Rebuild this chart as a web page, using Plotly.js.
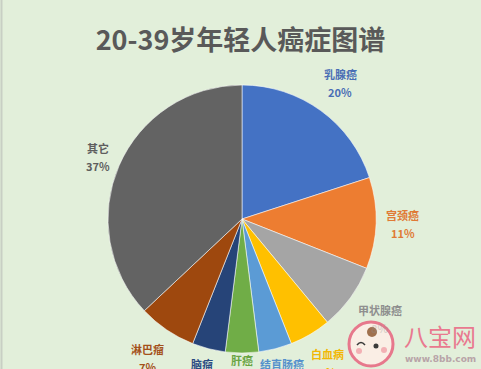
<!DOCTYPE html>
<html>
<head>
<meta charset="utf-8">
<script src="https://cdn.plot.ly/plotly-3.0.1.min.js"></script>
<style>html,body{margin:0;padding:0;background:#E2EFDA;}#chart{width:481px;height:369px;}</style>
</head>
<body>
<div id="chart"></div>
<script>
// Data
var categories = ["乳腺癌", "宫颈癌", "甲状腺癌", "白血病", "结直肠癌", "肝癌", "脑瘤", "淋巴瘤", "其它"];
var values = [20, 11, 8, 5, 4, 4, 4, 7, 37];

// Styles
var sliceColors = ["#4472C4", "#ED7D31", "#A5A5A5", "#FFC000", "#5B9BD5", "#70AD47", "#264478", "#9E480E", "#636363"];
var labelColors = ["#4A6EB5", "#E07A35", "#8F8F8F", "#F2B705", "#5591CC", "#6AA544", "#2A4A82", "#A4511A", "#5E5E5E"];
var labelRadius = [1.25, 1.20, 1.27, 1.25, 1.19, 1.12, 1.19, 1.25, 1.17];
var labelOpacity = [1, 1, 0.3, 1, 1, 1, 1, 1, 1];

var W = 481, H = 369;
var dom = {x: [108 / W, 376 / W], y: [(H - 353) / H, (H - 85) / H]};
var cx = (dom.x[0] + dom.x[1]) / 2 * W;
var cy = H - (dom.y[0] + dom.y[1]) / 2 * H;
var R = (dom.x[1] - dom.x[0]) * W / 2;

var total = values.reduce(function (a, b) { return a + b; }, 0);
var annotations = [];
var cum = 0;
values.forEach(function (v, i) {
  var mid = (cum + v / 2) / total * 2 * Math.PI;
  cum += v;
  var r = R * labelRadius[i];
  var px = cx + r * Math.sin(mid);
  var py = cy - r * Math.cos(mid);
  var pct = Math.round(v / total * 100) + "%";
  var common = {xref: "paper", yref: "paper", x: px / W, y: (H - py) / H, showarrow: false,
    xanchor: "center", yanchor: "middle",
    font: {family: "Noto Sans CJK SC", size: 11, color: labelColors[i], weight: "bold"}};
  annotations.push(Object.assign({}, common, {text: categories[i], yshift: 9}));
  annotations.push(Object.assign({}, common, {text: pct, yshift: -9, opacity: labelOpacity[i]}));
});

// watermark
annotations.push({xref: "paper", yref: "paper", x: 440 / W, y: (H - 335) / H, text: "八宝网", showarrow: false,
  xanchor: "center", yanchor: "middle",
  font: {family: "Noto Sans CJK SC", size: 24, color: "#E9798F"}});
annotations.push({xref: "paper", yref: "paper", x: 440 / W, y: (H - 359) / H, text: "www.8bb.com", showarrow: false,
  xanchor: "center", yanchor: "middle",
  font: {family: "DejaVu Sans", size: 9, color: "#B8A4A8", weight: "bold"}});

function circ(x, y, r, fill, lineColor, lw) {
  return {type: "circle", xref: "paper", yref: "paper", x0: (x - r) / W, x1: (x + r) / W,
    y0: (H - y - r) / H, y1: (H - y + r) / H, fillcolor: fill,
    line: {color: lineColor || "rgba(0,0,0,0)", width: lw || 0}};
}
var shapes = [
  circ(371, 344, 22, "rgba(252,238,230,0.92)", "#E7788C", 3),
  circ(372, 332, 5, "#A0704E"),
  circ(376, 346, 2.5, "#3A3A3A"),
  circ(359, 351, 3, "rgba(240,150,160,0.7)"),
  circ(384, 350, 3, "rgba(240,150,160,0.7)"),
  {type: "path", xref: "paper", yref: "paper",
    path: "M " + (357 / W) + " " + ((H - 345) / H) + " Q " + (361 / W) + " " + ((H - 340) / H) + " " + (365 / W) + " " + ((H - 345) / H),
    line: {color: "#3A3A3A", width: 1.5}},
  {type: "line", xref: "paper", yref: "paper", x0: 1.5 / W, x1: 1.5 / W, y0: 0, y1: 1,
    line: {color: "#C8CFC4", width: 2}}
];

var data = [{
  type: "pie",
  labels: categories,
  values: values,
  sort: false,
  direction: "clockwise",
  rotation: 0,
  textinfo: "none",
  hoverinfo: "label+percent",
  domain: dom,
  marker: {colors: sliceColors, line: {color: "rgba(255,255,255,0.55)", width: 1}}
}];

var layout = {
  width: W, height: H,
  margin: {l: 0, r: 0, t: 0, b: 0},
  paper_bgcolor: "#E2EFDA",
  plot_bgcolor: "#E2EFDA",
  showlegend: false,
  title: {text: "<b>20-39岁年轻人癌症图谱</b>", x: 0.5, xanchor: "center", y: (H - 41) / H, yanchor: "middle",
    font: {family: "Noto Sans CJK SC", size: 27, color: "#595959"}},
  annotations: annotations,
  shapes: shapes
};

Plotly.newPlot("chart", data, layout, {displayModeBar: false, staticPlot: true});
</script>
</body>
</html>
